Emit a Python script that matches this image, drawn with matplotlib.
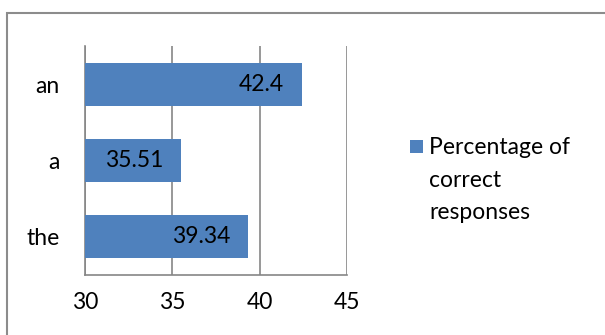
import matplotlib
matplotlib.use("Agg")
import matplotlib.pyplot as plt
from matplotlib.patches import Rectangle

categories = ["the", "a", "an"]
values = [39.34, 35.51, 42.4]
value_labels = ["39.34", "35.51", "42.4"]
x_ticks = [30, 35, 40, 45]
series_name = "Percentage of\ncorrect\nresponses"

plt.rcParams['font.family'] = ['Lato', 'DejaVu Sans']
W, H = 605, 335
FS = 16.5
fig = plt.figure(figsize=(W/100, H/100), dpi=100)
ax = fig.add_axes([85/W, 1-275/H, (347-85)/W, (275-46)/H])

color = "#4F81BD"
grid = "#868686"
ys = list(range(len(categories)))
ax.barh(ys, [v - 30 for v in values], left=30, height=0.56, color=color, zorder=3)
for y, v, lab in zip(ys, values, value_labels):
    ax.annotate(lab, xy=(v, y), xytext=(-18, 0), textcoords="offset pixels",
                ha="right", va="center", fontsize=FS, color="black", zorder=4)

ax.set_xlim(30, 45)
ax.set_ylim(-0.5, 2.5)
ax.set_xticks(x_ticks)
ax.set_xticklabels([str(t) for t in x_ticks], fontsize=FS)
ax.set_yticks(ys)
ax.set_yticklabels(categories, fontsize=FS)
ax.tick_params(axis="y", length=0, pad=18)
ax.tick_params(axis="x", length=0, pad=12)
ax.xaxis.grid(True, color=grid, linewidth=1.2, zorder=0)
for s in ["top", "right"]:
    ax.spines[s].set_visible(False)
for s in ["left", "bottom"]:
    ax.spines[s].set_color(grid)
    ax.spines[s].set_linewidth(1.2)

# legend
fig.patches.append(Rectangle((410/W, 1-153/H), 13/W, 13/H, transform=fig.transFigure,
                             facecolor=color, edgecolor="none"))
fig.text(429/W, 1-137/H, series_name, fontsize=FS, va="top", ha="left", linespacing=1.68)

# chart border
fig.patches.append(Rectangle((7/W, -0.1), 1.2, 1-13/H+0.1, transform=fig.transFigure,
                             facecolor="none", edgecolor="#8C8C8C", linewidth=1.5))

fig.savefig("out.png", dpi=100)
